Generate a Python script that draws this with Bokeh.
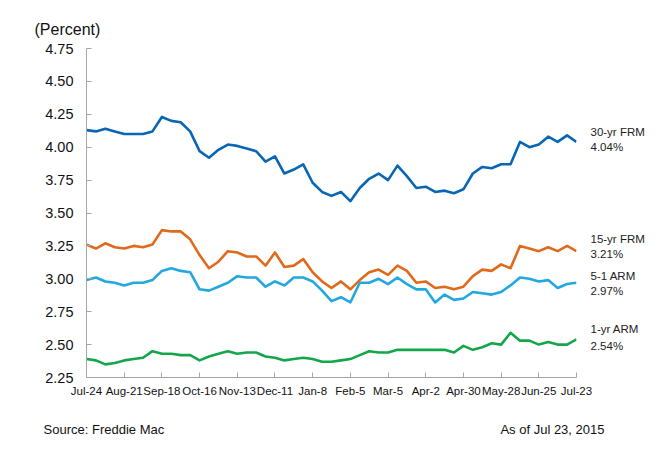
from bokeh.plotting import figure
from bokeh.models import Range1d, FixedTicker, LinearAxis, Title
from bokeh.embed import file_html
from bokeh.resources import INLINE

# Weekly data, Jul 24 2014 .. Jul 23 2015 (53 weeks)
frm30 = [4.13, 4.12, 4.14, 4.12, 4.10, 4.10, 4.10, 4.12, 4.23, 4.20, 4.19, 4.12,
         3.97, 3.92, 3.98, 4.02, 4.01, 3.99, 3.97, 3.89, 3.93, 3.80, 3.83, 3.87,
         3.73, 3.66, 3.63, 3.66, 3.59, 3.69, 3.76, 3.80, 3.75, 3.86, 3.78, 3.69,
         3.70, 3.66, 3.67, 3.65, 3.68, 3.80, 3.85, 3.84, 3.87, 3.87, 4.04, 4.00,
         4.02, 4.08, 4.04, 4.09, 4.04]
frm15 = [3.26, 3.23, 3.27, 3.24, 3.23, 3.25, 3.24, 3.26, 3.37, 3.36, 3.36, 3.30,
         3.18, 3.08, 3.13, 3.21, 3.20, 3.17, 3.17, 3.10, 3.20, 3.09, 3.10, 3.15,
         3.05, 2.98, 2.93, 2.98, 2.92, 2.99, 3.05, 3.07, 3.03, 3.10, 3.06, 2.97,
         2.98, 2.93, 2.94, 2.92, 2.94, 3.02, 3.07, 3.06, 3.11, 3.08, 3.25, 3.23,
         3.21, 3.24, 3.21, 3.25, 3.21]
arm51 = [2.99, 3.01, 2.98, 2.97, 2.95, 2.97, 2.97, 2.99, 3.06, 3.08, 3.06, 3.05,
         2.92, 2.91, 2.94, 2.97, 3.02, 3.01, 3.01, 2.94, 2.98, 2.95, 3.01, 3.01,
         2.98, 2.91, 2.83, 2.86, 2.82, 2.97, 2.97, 3.00, 2.96, 3.01, 2.96, 2.92,
         2.92, 2.82, 2.88, 2.84, 2.85, 2.90, 2.89, 2.88, 2.90, 2.95, 3.01, 3.00,
         2.98, 2.99, 2.93, 2.96, 2.97]
arm1 = [2.39, 2.38, 2.35, 2.36, 2.38, 2.39, 2.40, 2.45, 2.43, 2.43, 2.42, 2.42,
        2.38, 2.41, 2.43, 2.45, 2.43, 2.44, 2.44, 2.41, 2.40, 2.38, 2.39, 2.40,
        2.39, 2.37, 2.37, 2.38, 2.39, 2.42, 2.45, 2.44, 2.44, 2.46, 2.46, 2.46,
        2.46, 2.46, 2.46, 2.44, 2.49, 2.46, 2.48, 2.51, 2.50, 2.59, 2.53, 2.53,
        2.50, 2.52, 2.50, 2.50, 2.54]

x_tick_pos = [0, 4, 8, 12, 16, 20, 24, 28, 32, 36, 40, 44, 48, 52]
x_tick_labels = ["Jul-24", "Aug-21", "Sep-18", "Oct-16", "Nov-13", "Dec-11", "Jan-8",
                 "Feb-5", "Mar-5", "Apr-2", "Apr-30", "May-28", "Jun-25", "Jul-23"]
y_ticks = [2.25, 2.50, 2.75, 3.00, 3.25, 3.50, 3.75, 4.00, 4.25, 4.50, 4.75]
y_tick_labels = ["2.25", "2.50", "2.75", "3.00", "3.25", "3.50", "3.75", "4.00",
                 "4.25", "4.50", "4.75"]

series_names = ["30-yr FRM", "15-yr FRM", "5-1 ARM", "1-yr ARM"]
series_last = ["4.04%", "3.21%", "2.97%", "2.54%"]
series_data = [frm30, frm15, arm51, arm1]
colors = ["#0866B4", "#E0691B", "#22A7E0", "#13A64B"]

FONT = "Liberation Sans"
W, H = 647, 442

p = figure(width=W, height=H, output_backend="svg", toolbar_location=None,
           x_range=Range1d(0, 52), y_range=Range1d(2.25, 4.75),
           min_border_left=86, min_border_right=64, min_border_top=48,
           min_border_bottom=65)
p.outline_line_color = None
p.xgrid.visible = False
p.ygrid.visible = False
p.background_fill_color = "white"

xs = list(range(len(frm30)))
for data, c in zip(series_data, colors):
    p.line(xs, data, line_color=c, line_width=2.6, line_join="round")

axis_col = "#A6A6A6"
for ax in (p.xaxis[0], p.yaxis[0]):
    ax.axis_line_color = axis_col
    ax.major_tick_line_color = axis_col
    ax.minor_tick_line_color = None
    ax.major_tick_in = 5
    ax.major_tick_out = 0
    ax.major_label_text_font = FONT
    ax.major_label_text_color = "#111111"

p.xaxis.ticker = FixedTicker(ticks=x_tick_pos)
p.xaxis.major_label_overrides = {t: l for t, l in zip(x_tick_pos, x_tick_labels)}
p.xaxis.major_label_text_font_size = "11.5px"
p.xaxis.major_label_standoff = 7

p.yaxis.ticker = FixedTicker(ticks=y_ticks)
p.yaxis.major_label_overrides = {t: l for t, l in zip(y_ticks, y_tick_labels)}
p.yaxis.major_label_text_font_size = "14.5px"
p.yaxis.major_label_standoff = 13

# right-side series labels as an unlined right axis
label_y = [(4.112, 3.998), (3.302, 3.188), (3.022, 2.908), (2.618, 2.490)]
r_ticks, r_over = [], {}
for name, last, (y1, y2) in zip(series_names, series_last, label_y):
    r_ticks += [y1, y2]
    r_over[y1] = name
    r_over[y2] = last
rax = LinearAxis(ticker=FixedTicker(ticks=r_ticks), major_label_overrides=r_over,
                 axis_line_color=None, major_tick_line_color=None,
                 minor_tick_line_color=None, major_label_standoff=8,
                 major_label_text_font=FONT, major_label_text_font_size="11.5px",
                 major_label_text_color="#222222")
p.add_layout(rax, "right")

# footer texts as an unlined second bottom axis
foot_pos = [1.85, 49.45]
foot_text = ["Source: Freddie Mac", "As of Jul 23, 2015"]
bax = LinearAxis(ticker=FixedTicker(ticks=foot_pos),
                 major_label_overrides={t: s for t, s in zip(foot_pos, foot_text)},
                 axis_line_color=None, major_tick_line_color=None,
                 minor_tick_line_color=None, major_label_standoff=16,
                 major_label_text_font=FONT, major_label_text_font_size="13px",
                 major_label_text_color="#111111")
p.add_layout(bax, "below")

# header
p.add_layout(Title(text="(Percent)", align="left", offset=-52, standoff=21,
                   text_font=FONT, text_font_size="16px", text_font_style="normal",
                   text_color="#111111"), "above")

open("out.html", "w").write(file_html(p, INLINE))
